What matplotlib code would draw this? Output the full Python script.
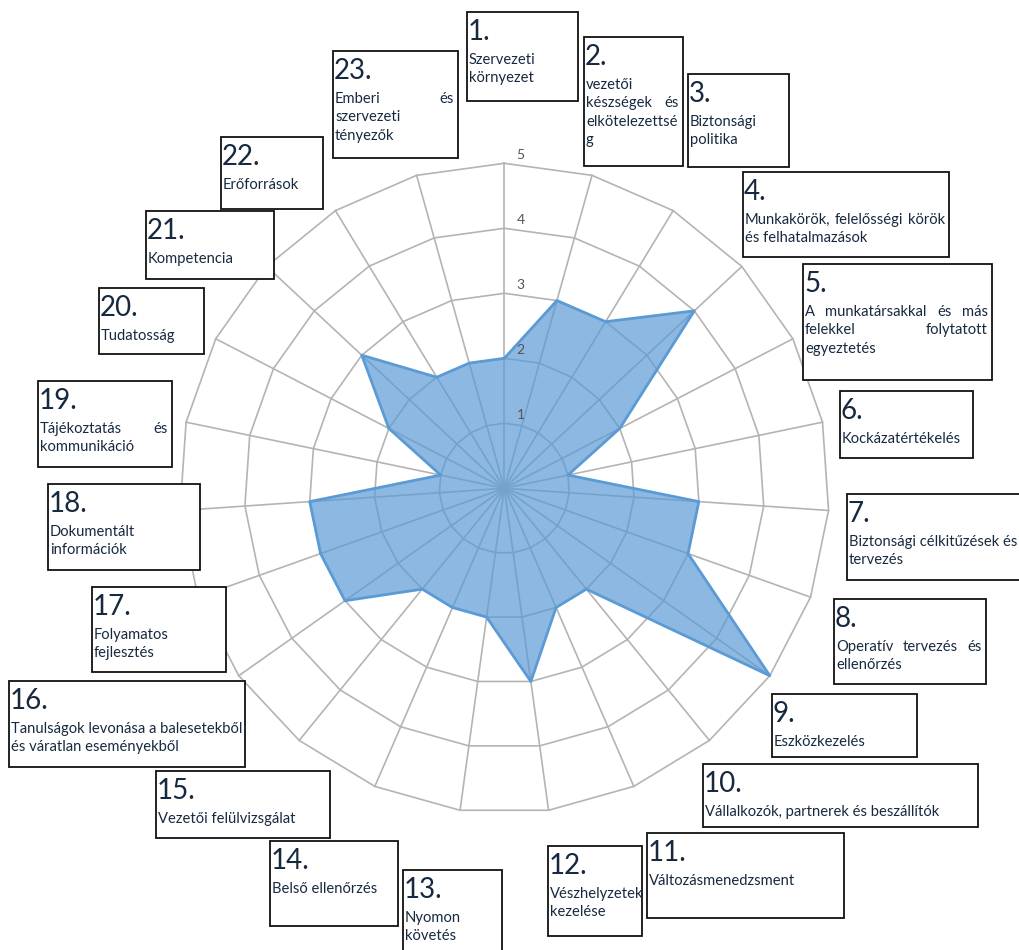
import matplotlib
matplotlib.use('Agg')
import matplotlib.pyplot as plt
import matplotlib.transforms as mtransforms
import numpy as np

plt.rcParams['font.family'] = ['Lato', 'DejaVu Sans']

# --- data ---
numbers = [f'{i}.' for i in range(1, 24)]
labels = [
    ['Szervezeti', 'környezet'],
    ['vezetői', 'készségek és', 'elkötelezettsé', 'g'],
    ['Biztonsági', 'politika'],
    ['Munkakörök, felelősségi körök', 'és felhatalmazások'],
    ['A munkatársakkal és más', 'felekkel folytatott', 'egyeztetés'],
    ['Kockázatértékelés'],
    ['Biztonsági célkitűzések és', 'tervezés'],
    ['Operatív tervezés és', 'ellenőrzés'],
    ['Eszközkezelés'],
    ['Vállalkozók, partnerek és beszállítók'],
    ['Változásmenedzsment'],
    ['Vészhelyzetek', 'kezelése'],
    ['Nyomon', 'követés'],
    ['Belső ellenőrzés'],
    ['Vezetői felülvizsgálat'],
    ['Tanulságok levonása a balesetekből', 'és váratlan eseményekből'],
    ['Folyamatos', 'fejlesztés'],
    ['Dokumentált', 'információk'],
    ['Tájékoztatás és', 'kommunikáció'],
    ['Tudatosság'],
    ['Kompetencia'],
    ['Erőforrások'],
    ['Emberi és', 'szervezeti', 'tényezők'],
]
scores = [2, 3, 3, 4, 2, 1, 3, 3, 5, 2, 2, 3, 2, 2, 2, 3, 3, 3, 1, 2, 3, 2, 2]
levels = [1, 2, 3, 4, 5]

# label box layout in pixels: left, top, right, bottom
boxes = [
    (467, 12, 578, 101), (584, 37, 683, 166), (688, 74, 789, 167),
    (743, 172, 949, 257), (803, 264, 992, 380), (840, 391, 973, 458),
    (847, 494, 1022, 580), (834, 599, 986, 684), (772, 694, 917, 757),
    (703, 764, 978, 827), (647, 833, 844, 918), (548, 846, 642, 936),
    (403, 870, 502, 955), (270, 841, 398, 926), (156, 771, 330, 838),
    (9, 681, 245, 767), (92, 587, 226, 672), (48, 484, 200, 570),
    (38, 381, 172, 467), (99, 288, 204, 354), (146, 211, 274, 279),
    (221, 137, 323, 209), (333, 51, 458, 158),
]

W, H = 1020, 950
cx, cy, unit = 504.3, 488.3, 65.0
grid_col = '#b4b4b4'
text_col = '#17293f'

fig = plt.figure(figsize=(W / 100, H / 100), dpi=100)
ax = fig.add_axes([0, 0, 1, 1])
ax.set_xlim(-cx / unit, (W - cx) / unit)
ax.set_ylim(-(H - cy) / unit, cy / unit)
ax.axis('off')

n = len(scores)
theta = np.arange(n) * 2 * np.pi / n
ring = np.append(theta, theta[0])

# polygon grid
for lv in levels:
    ax.plot(lv * np.sin(ring), lv * np.cos(ring), color=grid_col, lw=1.2, zorder=1)
for t in theta:
    ax.plot([0, max(levels) * np.sin(t)], [0, max(levels) * np.cos(t)],
            color=grid_col, lw=1.2, zorder=1)
for lv in levels:
    ax.text(0.25, lv + 0.13, str(lv), ha='center', va='center',
            fontsize=10, color='#555555', zorder=4)

vals = np.append(scores, scores[0])
ax.fill(vals * np.sin(ring), vals * np.cos(ring), color='#5b9bd5', alpha=0.7,
        lw=0, zorder=2)
ax.plot(vals * np.sin(ring), vals * np.cos(ring), color='#5b9bd5', lw=2, zorder=3)

# pixel transform for label boxes (origin top-left)
pix = mtransforms.Affine2D().scale(1 / W, -1 / H).translate(0, 1) + fig.transFigure
renderer = fig.canvas.get_renderer()
desc_size = 10.6
num_size = 20


def width_of(s):
    t = fig.text(0, 0, s, fontsize=desc_size)
    w = t.get_window_extent(renderer).width
    t.remove()
    return w


space_w = width_of('a a') - 2 * width_of('a')

for num, lines, (l, t, r, b) in zip(numbers, labels, boxes):
    fig.patches.append(plt.Rectangle((l, t), r - l, b - t, transform=pix,
                                     fill=True, facecolor='white',
                                     edgecolor='#111111', lw=1.3, zorder=5))
    base = t + 28
    fig.text(l + 1, base, num, transform=pix, fontsize=num_size,
             color=text_col, va='baseline', zorder=6)
    y = base + 24
    inner = min(r, W) - 4 - (l + 2)
    for k, line in enumerate(lines):
        words = line.split(' ')
        gap = 0
        if k < len(lines) - 1 and len(words) > 1:
            ws = [width_of(wd) for wd in words]
            gap = (inner - sum(ws)) / (len(words) - 1)
        if gap > space_w:
            # justified line, like the word-processor boxes
            x = l + 2
            for wd, wdt in zip(words, ws):
                fig.text(x, y, wd, transform=pix, fontsize=desc_size,
                         color=text_col, va='baseline', zorder=6)
                x += wdt + gap
        else:
            fig.text(l + 2, y, line, transform=pix, fontsize=desc_size,
                     color=text_col, va='baseline', zorder=6)
        y += 18.3

fig.savefig('out.png', dpi=100, facecolor='white')
